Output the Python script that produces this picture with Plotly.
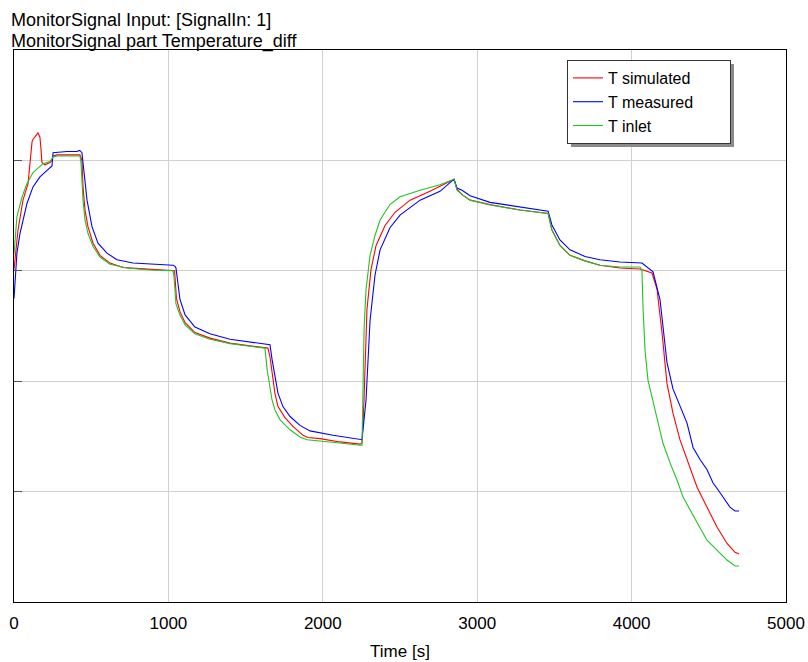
import plotly.graph_objects as go

# ---- data (time in s, temperature difference in arbitrary units) ----
t_sim = [0, 26, 58, 91, 117, 123, 155, 168, 175, 181, 201, 233, 246, 253, 278, 427, 440, 447, 460, 479, 512, 557, 622, 706, 816, 926, 1040,
         1052, 1075, 1108, 1172, 1269, 1399, 1528, 1645, 1658, 1677, 1690, 1710, 1755, 1807, 1872, 1904, 1982, 2111, 2241, 2254,
         2267, 2286, 2312, 2345, 2403, 2468, 2565, 2694, 2800, 2850, 2869, 2902, 2954, 3083, 3277, 3459, 3484, 3536, 3601, 3698, 3795,
         3925, 4054, 4132, 4165, 4197, 4229, 4268, 4313, 4359, 4424, 4488, 4553, 4618, 4670, 4696]
y_sim = [30.1, 33.7, 36.4, 37.9, 41.7, 41.9, 42.5, 42.1, 41.0, 39.8, 39.6, 39.8, 40.0, 40.4, 40.5, 40.5, 40.0, 37.6, 35.5, 34.0, 32.5, 31.4, 30.7, 30.3, 30.2, 30.1, 30.0,
         27.5, 26.3, 25.3, 24.4, 23.9, 23.45, 23.2, 23.0, 22.2, 20.1, 18.9, 17.7, 16.7, 15.9, 15.1, 14.9, 14.8, 14.5, 14.3, 14.4,
         18.3, 26.5, 30.1, 32.3, 34.1, 35.3, 36.4, 37.2, 37.9, 38.3, 37.4, 36.9, 36.4, 36.0, 35.5, 35.2, 33.7, 32.3, 31.4, 30.9, 30.5,
         30.25, 30.16, 29.8, 28.3, 24.4, 19.8, 17.1, 14.7, 12.9, 10.4, 8.6, 6.8, 5.3, 4.5, 4.35]

t_meas = [0, 19, 39, 84, 123, 168, 214, 246, 253, 343, 408, 425, 440, 447, 473, 505, 544, 602, 667, 771, 881, 1030, 1043, 1049,
          1075, 1108, 1172, 1269, 1399, 1528, 1658, 1671, 1697, 1710, 1742, 1788, 1852, 1917, 2066, 2247,
          2254, 2280, 2306, 2338, 2371, 2435, 2500, 2630, 2759, 2850, 2869, 2902, 2954, 3083, 3277, 3459, 3484, 3536, 3601, 3698, 3795, 3925, 4067,
          4139, 4184, 4229, 4268, 4313, 4359, 4398, 4443, 4488, 4527, 4573, 4637, 4670, 4696]
y_meas = [27.5, 31.6, 33.4, 36.1, 37.6, 38.5, 39.1, 39.5, 40.7, 40.8, 40.8, 40.9, 40.7, 39.9, 36.4, 34.0, 32.5, 31.6, 31.0, 30.7, 30.6, 30.5, 30.4, 30.25,
          27.4, 26.0, 24.9, 24.3, 23.8, 23.55, 23.3, 22.0, 20.1, 18.9, 17.7, 16.8, 16.0, 15.5, 15.1, 14.7,
          14.7, 18.3, 25.5, 29.6, 31.9, 33.9, 35.05, 36.4, 37.2, 38.3, 37.5, 37.3, 36.8, 36.2, 35.8, 35.4, 34.15, 32.8, 31.9, 31.3, 31.0, 30.8, 30.7,
          29.9, 27.4, 21.7, 19.3, 17.7, 16.2, 14.0, 12.9, 12.0, 10.8, 9.9, 8.6, 8.24, 8.24]

t_inlet = [0, 19, 52, 84, 123, 155, 188, 233, 253, 278, 427, 434, 447, 460, 479, 512, 557, 622, 732, 881, 1030,
           1036, 1049, 1075, 1108, 1172, 1269, 1399, 1528, 1625, 1640, 1658, 1671, 1690, 1723, 1788, 1852, 1898, 1982, 2111, 2241, 2254,
           2267, 2280, 2306, 2338, 2371, 2435, 2500, 2630, 2759, 2850, 2869, 2902, 2954, 3083, 3277, 3459, 3484, 3536, 3601, 3698, 3795,
           3925, 4054, 4067, 4074, 4087, 4106, 4132, 4165, 4203, 4249, 4294, 4333, 4378, 4424, 4488, 4553, 4618, 4670, 4696]
y_inlet = [31.5, 34.9, 36.7, 37.9, 38.9, 39.3, 39.7, 39.9, 40.3, 40.4, 40.4, 39.8, 36.4, 34.6, 33.4, 32.2, 31.25, 30.6, 30.25, 30.07, 30.0,
           29.5, 27.0, 26.0, 25.1, 24.3, 23.8, 23.4, 23.15, 23.0, 21.0, 19.2, 18.3, 17.4, 16.5, 15.6, 14.95, 14.7, 14.6, 14.4, 14.2, 14.2,
           24.6, 28.3, 31.4, 33.2, 34.6, 36.0, 36.7, 37.3, 37.8, 38.3, 37.3, 36.9, 36.4, 35.96, 35.5, 35.2, 33.7, 32.3, 31.4, 30.9, 30.5,
           30.34, 30.34, 30.07, 26.7, 22.8, 20.1, 18.6, 16.5, 14.4, 12.6, 11.05, 9.5, 8.3, 7.2, 5.6, 4.7, 3.8, 3.26, 3.26]

series_names = ["T simulated", "T measured", "T inlet"]
x_ticks = [0, 1000, 2000, 3000, 4000, 5000]
y_grid = [10, 20, 30, 40]

FONT = "Arial, Liberation Sans, sans-serif"
PADN = "\u00a0" * 7   # trailing room inside the legend box, as in the original

fig = go.Figure()
fig.add_trace(go.Scatter(x=t_sim, y=y_sim, mode="lines", name=series_names[0] + PADN,
                         line=dict(color="#ff0000", width=1.1)))
fig.add_trace(go.Scatter(x=t_meas, y=y_meas, mode="lines", name=series_names[1] + PADN,
                         line=dict(color="#0000ff", width=1.1)))
fig.add_trace(go.Scatter(x=t_inlet, y=y_inlet, mode="lines", name=series_names[2] + PADN,
                         line=dict(color="#22c322", width=1.1)))

# plot area: x 14..786, y 50..602 px
L, R, T, B = 14, 22, 50, 60
W, H = 808, 662
pw, ph = W - L - R, H - T - B

def px(x):
    return (x - L) / pw

def py(y):
    return (H - B - y) / ph

fig.update_layout(
    width=W, height=H,
    margin=dict(l=L, r=R, t=T, b=B, pad=0, autoexpand=False),
    paper_bgcolor="white", plot_bgcolor="white",
    font=dict(family=FONT, size=17, color="black"),
    showlegend=True,
    legend=dict(x=px(567), y=py(60), xanchor="left", yanchor="top",
                bgcolor="white", bordercolor="#333333", borderwidth=1,
                font=dict(size=16, color="black"), tracegroupgap=0,
                itemwidth=30),
    xaxis=dict(range=[0, 5000], tickvals=x_ticks, showgrid=True, gridcolor="#d0d0d0", gridwidth=1,
               showline=True, linecolor="black", linewidth=1, mirror=True, zeroline=False,
               ticks="outside", ticklen=6, tickcolor="rgba(0,0,0,0)", automargin=False,
               tickfont=dict(size=17, color="black"),
               title=dict(text="Time [s]", font=dict(size=17, color="black"), standoff=12)),
    yaxis=dict(range=[0, 50], tickvals=y_grid, showticklabels=False, showgrid=True, gridcolor="#d0d0d0", gridwidth=1,
               showline=True, linecolor="black", linewidth=1, mirror=True, zeroline=False, automargin=False,
               ticks="inside", ticklen=8, tickcolor="#555555", tickwidth=1),
    annotations=[
        dict(text="MonitorSignal Input: [SignalIn: 1]", xref="paper", yref="paper",
             x=px(9), y=py(20), xanchor="left", yanchor="middle", showarrow=False,
             font=dict(size=18, color="black")),
        dict(text="MonitorSignal part Temperature_diff", xref="paper", yref="paper",
             x=px(9), y=py(41), xanchor="left", yanchor="middle", showarrow=False,
             font=dict(size=18, color="black")),
    ],
    shapes=[
        dict(type="rect", xref="paper", yref="paper", x0=px(571), x1=px(734), y0=py(64), y1=py(147),
             fillcolor="#8a8a8a", line=dict(width=0), layer="above"),
    ],
)

fig.write_html("out.html")
